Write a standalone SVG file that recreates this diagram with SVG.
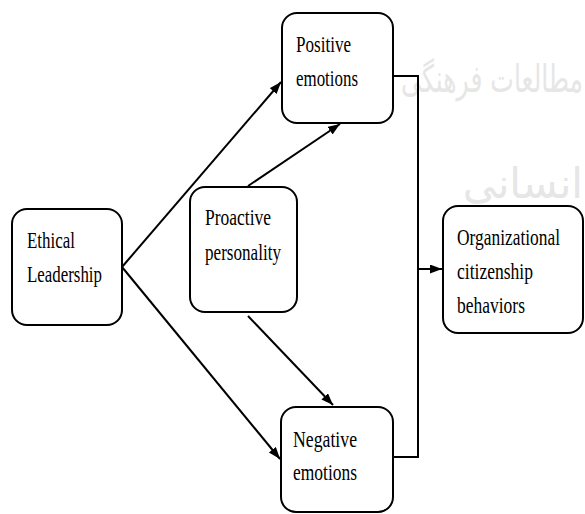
<svg xmlns="http://www.w3.org/2000/svg" width="585" height="514" viewBox="0 0 585 514">
<style>
.box{fill:#fff;stroke:#000;stroke-width:2}
.t{font-family:"Liberation Serif","Times New Roman",serif;font-size:24px;fill:#000}
.c{fill:none;stroke:#000;stroke-width:2}
.wm{font-family:"DejaVu Sans","Noto Sans",sans-serif;fill:#e6e6e6}
</style>
<defs>
<marker id="ah" markerUnits="userSpaceOnUse" markerWidth="13" markerHeight="10" refX="12" refY="4.5" orient="auto">
<path d="M0,0 L12,4.5 L0,9 z" fill="#000"/>
</marker>
</defs>
<rect width="585" height="514" fill="#fff"/>
<g id="watermark">
<text class="wm" x="583" y="92" font-size="38" text-anchor="end" textLength="182" lengthAdjust="spacingAndGlyphs">مطالعات فرهنگی</text>
<text class="wm" x="583" y="198" font-size="42" text-anchor="end">انسانی</text>
</g>
<g id="connectors">
<line class="c" x1="122" y1="267" x2="281" y2="82" marker-end="url(#ah)"/>
<line class="c" x1="122" y1="267" x2="280" y2="459" marker-end="url(#ah)"/>
<line class="c" x1="248" y1="186" x2="340" y2="124" marker-end="url(#ah)"/>
<line class="c" x1="248" y1="316" x2="333" y2="405" marker-end="url(#ah)"/>
<polyline class="c" points="393,76 418,76 418,457 393,457"/>
<line class="c" x1="418" y1="269" x2="442" y2="269" marker-end="url(#ah)"/>
</g>
<g id="ethical">
<rect class="box" x="12" y="209" width="110" height="116" rx="15"/>
<text class="t" x="27" y="248" textLength="48" lengthAdjust="spacingAndGlyphs">Ethical</text>
<text class="t" x="27" y="282" textLength="75" lengthAdjust="spacingAndGlyphs">Leadership</text>
</g>
<g id="positive">
<rect class="box" x="282" y="13" width="111" height="110" rx="15"/>
<text class="t" x="296" y="52" textLength="55" lengthAdjust="spacingAndGlyphs">Positive</text>
<text class="t" x="296" y="86" textLength="62" lengthAdjust="spacingAndGlyphs">emotions</text>
</g>
<g id="proactive">
<rect class="box" x="190" y="187" width="107" height="125" rx="15"/>
<text class="t" x="205" y="225" textLength="66" lengthAdjust="spacingAndGlyphs">Proactive</text>
<text class="t" x="205" y="260" textLength="76" lengthAdjust="spacingAndGlyphs">personality</text>
</g>
<g id="negative">
<rect class="box" x="281" y="407" width="112" height="105" rx="15"/>
<text class="t" x="293" y="447" textLength="64" lengthAdjust="spacingAndGlyphs">Negative</text>
<text class="t" x="293" y="480" textLength="64" lengthAdjust="spacingAndGlyphs">emotions</text>
</g>
<g id="ocb">
<rect class="box" x="443" y="206" width="140" height="127" rx="15"/>
<text class="t" x="457" y="245" textLength="103" lengthAdjust="spacingAndGlyphs">Organizational</text>
<text class="t" x="457" y="279" textLength="76" lengthAdjust="spacingAndGlyphs">citizenship</text>
<text class="t" x="457" y="313" textLength="68" lengthAdjust="spacingAndGlyphs">behaviors</text>
</g>
</svg>
